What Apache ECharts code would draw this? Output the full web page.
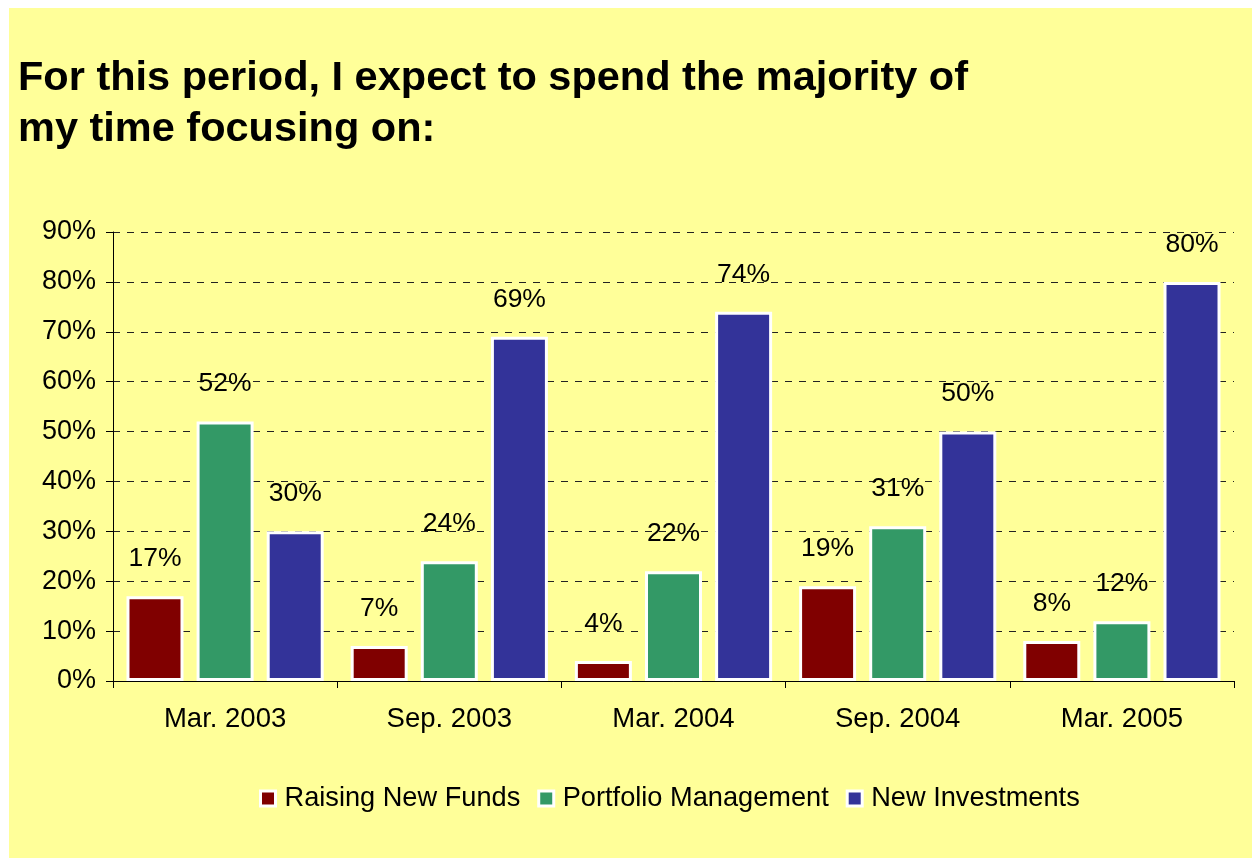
<!DOCTYPE html>
<html>
<head>
<meta charset="utf-8">
<title>Time focus</title>
<script src="https://cdn.jsdelivr.net/npm/echarts@6/dist/echarts.min.js"></script>
<style>
	html, body { margin: 0; padding: 0; background: #fff; }
	#main { position: absolute; left: 9px; top: 8px; width: 1243px; height: 850px; }
</style>
</head>
<body>
<div id="main"></div>
<script>
// 数据
var periods = ['Mar. 2003', 'Sep. 2003', 'Mar. 2004', 'Sep. 2004', 'Mar. 2005'];
var raisingFunds = [17, 7, 4, 19, 8];
var portfolioMgmt = [52, 24, 22, 31, 12];
var newInvestments = [30, 69, 74, 50, 80];
var seriesNames = ['Raising New Funds', 'Portfolio Management', 'New Investments'];
var seriesColors = ['#800000', '#339966', '#333399'];

var font = 'Arial, "Liberation Sans", sans-serif';

var myChart = echarts.init(document.getElementById('main'));

function makeSeries(name, data, color) {
	return {
		name: name,
		type: 'bar',
		data: data,
		barWidth: 57,
		barGap: '23%',
		itemStyle: {
			color: color,
			borderColor: '#fff',
			borderWidth: 3
		},
		label: {
			show: true,
			position: 'top',
			distance: 24,
			color: '#000',
			fontFamily: font,
			fontSize: 26.5,
			formatter: '{c}%'
		}
	};
}

var option = {
	backgroundColor: '#FFFF99',
	animation: false,
	title: {
		text: 'For this period, I expect to spend the majority of\nmy time focusing on:',
		left: 9,
		top: 45,
		padding: 0,
		textStyle: {
			fontFamily: font,
			fontWeight: 'bold',
			fontSize: 41.5,
			lineHeight: 51,
			color: '#000'
		}
	},
	legend: {
		data: seriesNames,
		left: 250,
		top: 777,
		padding: 0,
		itemWidth: 15,
		itemHeight: 15,
		itemGap: 17,
		icon: 'rect',
		itemStyle: {
			borderColor: '#fff',
			borderWidth: 3
		},
		textStyle: {
			fontFamily: font,
			fontSize: 27.2,
			color: '#000',
			padding: [0, 0, 0, 4]
		}
	},
	grid: {
		left: 104,
		right: 18,
		top: 224,
		bottom: 177,
		containLabel: false
	},
	xAxis: {
		type: 'category',
		data: periods,
		axisLine: { show: true, lineStyle: { color: '#000', width: 1 } },
		axisTick: { show: true, length: 7, lineStyle: { color: '#000' } },
		axisLabel: {
			margin: 24,
			color: '#000',
			fontFamily: font,
			fontSize: 27.5
		}
	},
	yAxis: {
		type: 'value',
		min: 0,
		max: 90,
		interval: 10,
		axisLine: { show: true, lineStyle: { color: '#000', width: 1 } },
		axisTick: { show: true, length: 7, lineStyle: { color: '#000' } },
		axisLabel: {
			margin: 17,
			color: '#000',
			fontFamily: font,
			fontSize: 27,
			formatter: '{value}%'
		},
		splitLine: {
			show: true,
			lineStyle: { color: '#222', width: 1, type: [7, 7] }
		}
	},
	series: [
		makeSeries(seriesNames[0], raisingFunds, seriesColors[0]),
		makeSeries(seriesNames[1], portfolioMgmt, seriesColors[1]),
		makeSeries(seriesNames[2], newInvestments, seriesColors[2])
	]
};

myChart.setOption(option);
</script>
</body>
</html>
